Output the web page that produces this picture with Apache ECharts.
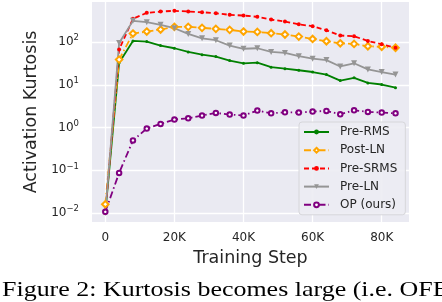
<!DOCTYPE html>
<html>
<head>
<meta charset="utf-8">
<script src="https://cdn.jsdelivr.net/npm/echarts@6/dist/echarts.min.js"></script>
<style>
html,body{margin:0;padding:0;background:#fff;}
#chart{width:442px;height:302px;}
</style>
</head>
<body>
<div id="chart"></div>
<script>
const steps = [0,4000,8000,12000,16000,20000,24000,28000,32000,36000,40000,44000,48000,52000,56000,60000,64000,68000,72000,76000,80000,84000];
const preRMS  = [0.010,33,107,103,83,72,59,51,46,37,32,33,26,24,22,20,17.4,12.6,14.6,11.1,10.2,8.6];
const postLN  = [0.016,39,159,177,197,228,228,216,205,194,177,174,162,151,135,119,105,94,91,80,78,74];
const preSRMS = [0.010,67,352,486,521,541,521,501,476,436,420,391,338,304,262,236,190,143,137,107,89,74];
const preLN   = [0.010,96,315,293,254,212,156,123,111,83,70,72,59,56,47,41,38,27,32,23,20,17.4];
const opOurs  = [0.0107,0.087,0.50,0.95,1.22,1.54,1.65,1.91,2.21,2.02,1.91,2.50,2.16,2.28,2.25,2.37,2.46,2.05,2.54,2.33,2.25,2.16];
const xTicks = [0,20000,40000,60000,80000];
const xTickLabels = ['0','20K','40K','60K','80K'];
const seriesNames = ['Pre-RMS','Post-LN','Pre-SRMS','Pre-LN','OP (ours)'];
const captionText = 'Figure 2: Kurtosis becomes large (i.e. OFE)';

const txt = '#262626';
const font = 'DejaVu Sans';
function pts(arr){ return steps.map((s,i)=>[s,arr[i]]); }

const chart = echarts.init(document.getElementById('chart'), null, {renderer:'canvas'});
const dashDot = [7,3,1.5,3];
const option = {
  animation:false,
  backgroundColor:'#ffffff',
  grid:{left:92,right:33,top:2,bottom:80,show:true,backgroundColor:'#EAEAF2',borderWidth:0},
  xAxis:{
    type:'value', min:-3850, max:87900,
    axisLine:{show:false}, axisTick:{show:false, customValues:xTicks},
    splitLine:{show:true,lineStyle:{color:'#ffffff',width:1.3}},
    axisLabel:{customValues:xTicks, color:txt, fontFamily:font, fontSize:12, margin:10,
      formatter:function(v){ const i = xTicks.indexOf(v); return i>=0 ? xTickLabels[i] : ''; }},
    name:'Training Step', nameLocation:'middle', nameGap:27,
    nameTextStyle:{color:txt,fontFamily:font,fontSize:17.5}
  },
  yAxis:{
    type:'log', logBase:10, min:Math.pow(10,-2.21), max:Math.pow(10,2.94),
    axisLine:{show:false}, axisTick:{show:false},
    splitLine:{show:true,showMinLine:false,showMaxLine:false,lineStyle:{color:'#ffffff',width:1.3}},
    axisLabel:{color:txt, fontFamily:font, margin:13, showMinLabel:false, showMaxLabel:false,
      formatter:function(v){
        const l = Math.log10(v); const e = Math.round(l);
        if (Math.abs(l-e) > 1e-6) return '';
        return '{b|10}{s|' + (e<0 ? '\u2212'+(-e) : e) + '}';
      },
      rich:{
        b:{fontSize:12,fontFamily:font,color:txt},
        s:{fontSize:8.5,fontFamily:font,color:txt,padding:[0,0,8,0]}
      }},
    name:'Activation Kurtosis', nameLocation:'middle', nameGap:45,
    nameTextStyle:{color:txt,fontFamily:font,fontSize:17.5}
  },
  legend:{
    orient:'vertical', left:299, top:122,
    data:seriesNames,
    itemWidth:25, itemHeight:6, itemGap:6.2,
    padding:[4,8,4,4],
    backgroundColor:'rgba(236,236,243,0.9)', borderColor:'#d6d6da', borderWidth:1, borderRadius:3,
    textStyle:{color:txt,fontFamily:font,fontSize:12,padding:[0,0,0,6]}
  },
  series:[
    {name:'Pre-RMS', type:'line', data:pts(preRMS), color:'#008000',
     symbol:'circle', symbolSize:3, lineStyle:{width:1.8,type:'solid'}, itemStyle:{color:'#008000'}},
    {name:'Post-LN', type:'line', data:pts(postLN), color:'#FFA500',
     symbol:'emptyDiamond', symbolSize:6.5, lineStyle:{width:1.8,type:dashDot}, itemStyle:{color:'#FFA500',borderWidth:1.3}},
    {name:'Pre-SRMS', type:'line', data:pts(preSRMS), color:'#FF0000',
     symbol:'circle', symbolSize:4, lineStyle:{width:1.8,type:[5,3]}, itemStyle:{color:'#FF0000'}},
    {name:'Pre-LN', type:'line', data:pts(preLN), color:'#959595',
     symbol:'triangle', symbolRotate:180, symbolSize:6, lineStyle:{width:1.8,type:'solid'}, itemStyle:{color:'#959595'}},
    {name:'OP (ours)', type:'line', data:pts(opOurs), color:'#800080',
     symbol:'emptyCircle', symbolSize:4.5, lineStyle:{width:1.8,type:dashDot}, itemStyle:{color:'#800080',borderWidth:1.3}}
  ],
  graphic:[
    {type:'text', x:2, y:279, scaleX:1.18, silent:true,
     style:{x:0, y:0, text:captionText, fill:'#000', font:'22px "Liberation Serif"'}}
  ]
};
chart.setOption(option);
</script>
</body>
</html>
